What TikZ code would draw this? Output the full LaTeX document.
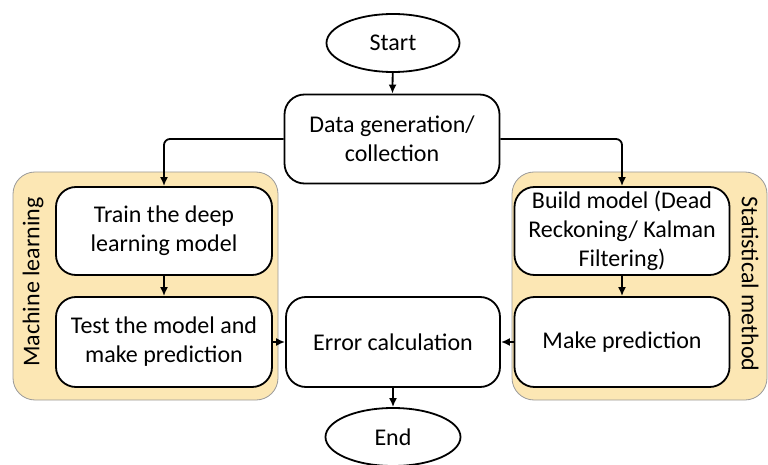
\documentclass[tikz,border=0pt]{standalone}
\usepackage{fontspec}
\setmainfont{Carlito}
\usetikzlibrary{shapes.geometric,arrows.meta}
\definecolor{grpfill}{HTML}{FCE7B4}
\definecolor{grpline}{HTML}{9A9A9A}
\tikzset{
  base/.style={font=\fontsize{24}{29}\selectfont, align=center, inner sep=0pt},
  stepbox/.style={base, draw=black, line width=1.8pt, fill=white, rounded corners=20pt, minimum width=215pt, minimum height=89pt},
  term/.style={base, ellipse, draw=black, line width=1.8pt, fill=white, minimum width=133pt, minimum height=58pt},
  group/.style={draw=grpline, line width=0.8pt, fill=grpfill, rounded corners=22pt},
  arr/.style={line width=1.8pt, -{Latex[length=9pt,width=8pt]}, rounded corners=6pt},
  glabel/.style={font=\fontsize{24}{29}\selectfont, inner sep=0pt}
}
\begin{document}
\begin{tikzpicture}[x=1pt,y=-1pt]
\useasboundingbox (0,0) rectangle (768,465);
% groups
\draw[group] (13,172) rectangle (278,400);
\draw[group] (512,172) rectangle (767,400);
\node[glabel, rotate=90] (ml) at (33,282) {Machine learning};
\node[glabel, rotate=-90] (sm) at (750,284) {Statistical method};
% nodes
\node[term] (start) at (393,43) {Start};
\node[stepbox] (data) at (392,139) {Data generation/\\collection};
\node[stepbox, minimum width=216pt, minimum height=88pt] (train) at (164,231) {Train the deep\\learning model};
\node[stepbox, minimum width=216pt, minimum height=90pt] (test) at (164,342) {Test the model and\\make prediction};
\node[stepbox, minimum width=215pt, minimum height=88pt] (build) at (622,231) {Build model (Dead\\Reckoning/ Kalman\\Filtering)};
\node[stepbox, minimum width=215pt, minimum height=90pt] (pred) at (622,342) {Make prediction};
\node[stepbox, minimum width=214pt, minimum height=90pt] (err) at (393,342) {Error calculation};
\node[term, minimum width=135pt] (end) at (393,437) {End};
% connectors
\draw[arr] (start) -- (data);
\draw[arr] (data.west) -| (train.north);
\draw[arr] (data.east) -| (build.north);
\draw[arr] (train) -- (test);
\draw[arr] (build) -- (pred);
\draw[arr] (test) -- (err);
\draw[arr] (pred) -- (err);
\draw[arr] (err) -- (end);
\end{tikzpicture}
\end{document}
